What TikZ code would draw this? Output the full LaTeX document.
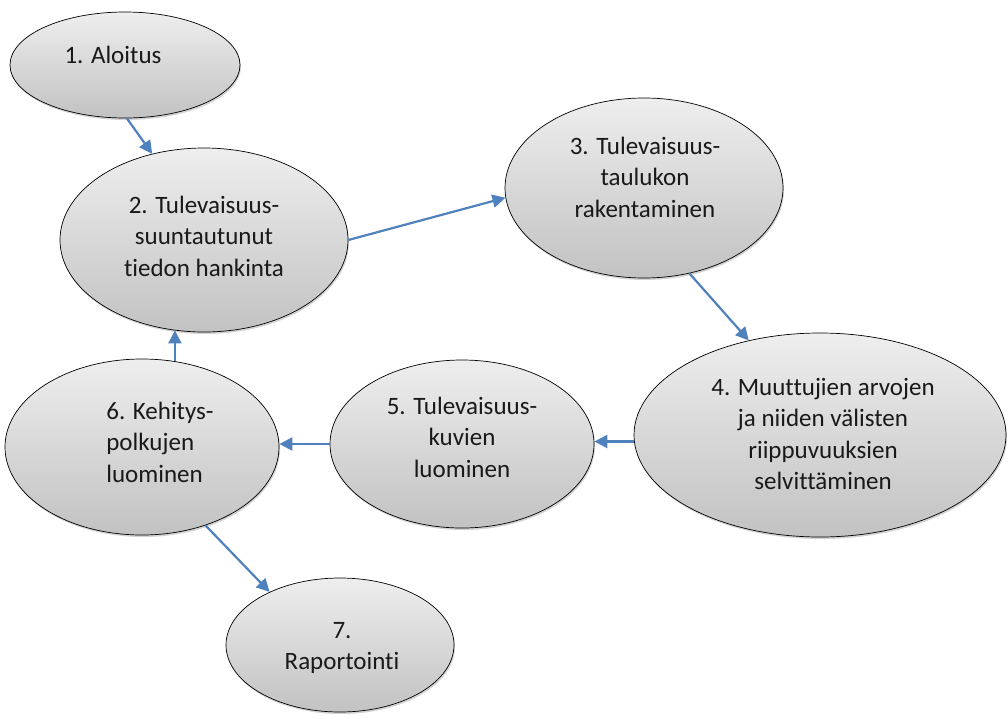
\documentclass[tikz,border=0pt]{standalone}
\usepackage{fontspec}
\setmainfont[Ligatures={NoCommon,NoContextual},Contextuals=NoAlternate]{Carlito}
\usetikzlibrary{shapes.geometric,arrows.meta,shadows}
\definecolor{flow}{HTML}{4F81BD}
\definecolor{shadetop}{HTML}{EEEEEE}
\definecolor{shadebot}{HTML}{C2C2C2}
\begin{document}
\begin{tikzpicture}[x=1pt,y=1pt,
  stage/.style={ellipse, draw=black, line width=0.7pt, inner sep=0pt,
    top color=shadetop, bottom color=shadebot,
    drop shadow={shadow xshift=1pt, shadow yshift=-2pt, opacity=0.35}},
  label/.style={font=\fontsize{25}{31.5}\selectfont, text=black!90, align=center, inner sep=0pt},
  flowarrow/.style={draw=flow, line width=2.2pt, -{Triangle[length=13pt,width=13pt]}}]
\useasboundingbox (0,0) rectangle (1008,-718);

% stages
\node[stage, minimum width=230, minimum height=106] (n1) at (125,-65) {};
\node[stage, minimum width=288, minimum height=184] (n2) at (204,-240) {};
\node[stage, minimum width=278, minimum height=180] (n3) at (644,-188) {};
\node[stage, minimum width=372, minimum height=204] (n4) at (820,-435) {};
\node[stage, minimum width=264, minimum height=168] (n5) at (462,-444) {};
\node[stage, minimum width=274, minimum height=176] (n6) at (142,-447) {};
\node[stage, minimum width=228, minimum height=134] (n7) at (340,-645) {};

% stage texts
\node[label] (t1) at (113,-55) {1. Aloitus};
\node[label] (t2) at (204,-236) {2. Tulevaisuus-\\suuntautunut\\tiedon hankinta};
\node[label] (t3) at (645,-177) {3. Tulevaisuus-\\taulukon\\rakentaminen};
\node[label] (t4) at (823,-434) {4. Muuttujien arvojen\\ja niiden välisten\\riippuvuuksien\\selvittäminen};
\node[label] (t5) at (462,-437) {5. Tulevaisuus-\\kuvien\\luominen};
\node[label, align=left] (t6) at (160,-442) {6. Kehitys-\\polkujen\\luominen};
\node[label] (t7) at (342,-648) {7.\\Raportointi};

% connectors
\draw[flowarrow] (n1.-88) -- (n2.121);
\draw[flowarrow] (n2.0) -- (n3.184);
\draw[flowarrow] (n3.-62) -- (n4.127);
\draw[flowarrow] (n4.182) -- (n4.182 -| n5.east);
\draw[flowarrow] (n5.west) -- (n5.west -| n6.east);
\draw[flowarrow] (n6.69) -- (n6.69 |- n2.-108);
\draw[flowarrow] (n6.-51) -- (n7.143);
\end{tikzpicture}
\end{document}
